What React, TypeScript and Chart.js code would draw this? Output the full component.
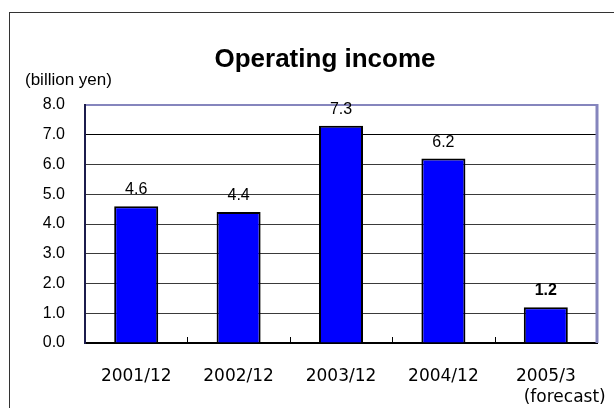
import React, { useEffect, useRef } from "react";
import { Chart, registerables } from "chart.js";

Chart.register(...registerables);

const categories: string[] = ["2001/12", "2002/12", "2003/12", "2004/12", "2005/3"];
const categoryNotes: string[] = ["", "", "", "", "(forecast)"];
const operatingIncome: number[] = [4.6, 4.4, 7.3, 6.2, 1.2];
const yTicks: number[] = [0, 1, 2, 3, 4, 5, 6, 7, 8];
const titleText = "Operating income";
const unitText = "(billion yen)";
const forecastIndex = 4;

const FONT = "'Liberation Sans', Arial, sans-serif";
const XFONT = "'DejaVu Sans', 'Liberation Sans', sans-serif";

export default function App() {
  const ref = useRef<HTMLCanvasElement | null>(null);

  useEffect(() => {
    const canvas = ref.current;
    if (!canvas) return;

    const decorations = {
      id: "decorations",
      afterDatasetsDraw(chart: any) {
        const ctx = chart.ctx;
        const area = chart.chartArea;
        const xs = chart.scales.x;
        ctx.save();
        // inside ticks on category boundaries
        ctx.strokeStyle = "#000";
        ctx.lineWidth = 1;
        for (let i = 1; i < categories.length; i++) {
          const bx = Math.round((xs.getPixelForValue(i - 1) + xs.getPixelForValue(i)) / 2) + 0.5;
          ctx.beginPath();
          ctx.moveTo(bx, area.bottom);
          ctx.lineTo(bx, area.bottom - 6);
          ctx.stroke();
        }
        // right border of plot area
        ctx.strokeStyle = "#8585bd";
        ctx.lineWidth = 3;
        ctx.beginPath();
        ctx.moveTo(area.right, area.top - 1);
        ctx.lineTo(area.right, area.bottom);
        ctx.stroke();
        // value labels
        const meta = chart.getDatasetMeta(0);
        ctx.fillStyle = "#000";
        ctx.textAlign = "center";
        ctx.textBaseline = "alphabetic";
        meta.data.forEach((bar: any, i: number) => {
          ctx.font = (i === forecastIndex ? "bold " : "") + "16px " + FONT;
          ctx.fillText(operatingIncome[i].toFixed(1), bar.x, bar.y - 12);
        });
        // title and unit
        ctx.font = "bold 26px " + FONT;
        ctx.textBaseline = "middle";
        ctx.fillText(titleText, 325, 60);
        ctx.font = "17px " + FONT;
        ctx.textAlign = "left";
        ctx.fillText(unitText, 25, 80);
        ctx.restore();
      },
    };

    const chart = new Chart(canvas, {
      type: "bar",
      data: {
        labels: categories,
        datasets: [
          {
            data: operatingIncome,
            backgroundColor: "#0000ff",
            borderColor: "#000000",
            borderWidth: 2,
            borderSkipped: "bottom",
            barPercentage: 0.43,
            categoryPercentage: 1,
          },
        ],
      },
      options: {
        animation: false,
        responsive: false,
        devicePixelRatio: 1,
        layout: { autoPadding: false, padding: { top: 105, right: 17, left: 0, bottom: 0 } },
        plugins: {
          legend: { display: false },
          title: { display: false },
          tooltip: { enabled: false },
        },
        scales: {
          x: {
            offset: true,
            grid: { display: false },
            border: { display: true, color: "#000", width: 2 },
            ticks: {
              color: "#000",
              font: { family: XFONT, size: 17, lineHeight: 1.235 },
              padding: 15,
              maxRotation: 0,
              autoSkip: false,
              callback: (_v: any, i: number) =>
                categoryNotes[i] ? [categories[i], "       " + categoryNotes[i]] : categories[i],
            },
            afterFit: (s: any) => {
              s.height = 65;
              s.paddingLeft = 0;
              s.paddingRight = 0;
            },
          },
          y: {
            min: 0,
            max: 8,
            afterBuildTicks: (s: any) => {
              s.ticks = yTicks.map((v) => ({ value: v }));
            },
            grid: {
              drawTicks: false,
              color: (c: any) => (c.tick && c.tick.value === 8 ? "#8585bd" : c.tick && c.tick.value === 7 ? "#000" : "#3a3a3a"),
              lineWidth: (c: any) => (c.tick && c.tick.value === 8 ? 2 : 1),
            },
            border: { display: true, color: "#1c1c4c", width: 2 },
            ticks: {
              color: "#000",
              font: { family: FONT, size: 16 },
              padding: 20,
              callback: (v: any) => Number(v).toFixed(1),
            },
            afterFit: (s: any) => {
              s.width = 85;
              s.paddingTop = 0;
              s.paddingBottom = 0;
            },
          },
        },
      },
      plugins: [decorations],
    });

    return () => chart.destroy();
  }, []);

  return (
    <div style={{ position: "absolute", left: 0, top: 0, width: 614, height: 408, overflow: "hidden", background: "#fff" }}>
      <div
        style={{
          position: "absolute",
          left: 9,
          top: 12,
          width: 800,
          height: 600,
          border: "1.5px solid #333",
          boxSizing: "border-box",
        }}
      />
      <canvas ref={ref} width={614} height={408} style={{ position: "absolute", left: 0, top: 0, display: "block" }} />
    </div>
  );
}
